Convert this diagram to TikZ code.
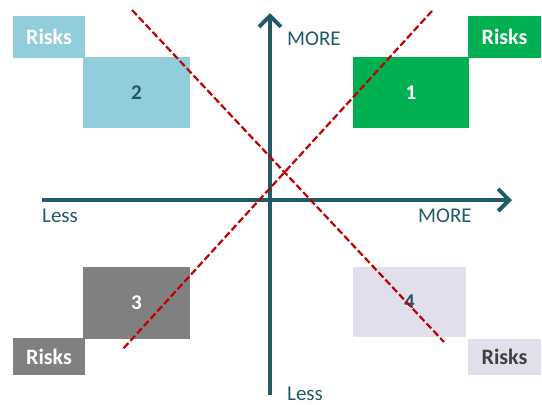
\documentclass[tikz,border=0pt]{standalone}
\usepackage{fontspec}
\setmainfont{Carlito}
\usetikzlibrary{arrows.meta}
\definecolor{axisc}{HTML}{215B69}
\definecolor{lblue}{HTML}{92CDDC}
\definecolor{dteal}{HTML}{215868}
\definecolor{qgreen}{HTML}{00B050}
\definecolor{qgray}{HTML}{808080}
\definecolor{qlav}{HTML}{E1DFEC}
\definecolor{dgray}{HTML}{404040}
\definecolor{dred}{HTML}{C00000}
\tikzset{
  qbox/.style={inner sep=0pt, font=\fontsize{21}{25}\selectfont\bfseries},
  riskbox/.style={inner sep=0pt, font=\fontsize{22}{26}\selectfont\bfseries},
  axisline/.style={draw=axisc, line width=4pt, -{Straight Barb[length=11pt,width=22pt,line width=4pt]}},
  axislabel/.style={text=axisc, font=\fontsize{21}{25}\selectfont, inner sep=0pt},
  redline/.style={draw=dred, line width=2.2pt, dash pattern=on 7pt off 3pt}
}
\begin{document}
\begin{tikzpicture}[x=1pt,y=-1pt]
\useasboundingbox (0,0) rectangle (542,405);
% quadrant boxes
\node[qbox, fill=lblue, text=dteal, minimum width=107pt, minimum height=71pt] (q2) at (136.5,92.5) {2};
\node[qbox, fill=qgreen, text=white, minimum width=116pt, minimum height=71pt] (q1) at (411,92.5) {1};
\node[qbox, fill=qgray, text=white, minimum width=107pt, minimum height=72pt] (q3) at (136.5,303) {3};
\node[qbox, fill=qlav, text=dteal, minimum width=113pt, minimum height=70pt] (q4) at (409.5,302) {4};
% risk boxes
\node[riskbox, fill=lblue, text=white, minimum width=72pt, minimum height=42pt] (r2) at (49,37) {Risks};
\node[riskbox, fill=qgreen, text=white, minimum width=73pt, minimum height=42pt] (r1) at (504.5,37) {Risks};
\node[riskbox, fill=qgray, text=white, minimum width=72pt, minimum height=37pt] (r3) at (49,356.5) {Risks};
\node[riskbox, fill=qlav, text=dgray, minimum width=73pt, minimum height=36pt] (r4) at (504.5,357) {Risks};
% axes
\coordinate (vb) at (270,395);
\coordinate (vt) at (270,13);
\coordinate (hl) at (42,200);
\coordinate (hr) at (512,200);
\draw[axisline] (vb) -- (vt);
\draw[axisline] (hl) -- (hr);
\node[axislabel, anchor=base west] (moreu) at (287,45) {MORE};
\node[axislabel, anchor=base west] (lessl) at (42,222) {Less};
\node[axislabel, anchor=base west] (morer) at (418,222) {MORE};
\node[axislabel, anchor=base west] (lessb) at (287,400) {Less};
% red dashed lines
\coordinate (a1) at (132,10);
\coordinate (a2) at (444,342);
\coordinate (b1) at (432,11);
\coordinate (b2) at (122,350);
\draw[redline] (a1) -- (a2);
\draw[redline] (b1) -- (b2);
\end{tikzpicture}
\end{document}
